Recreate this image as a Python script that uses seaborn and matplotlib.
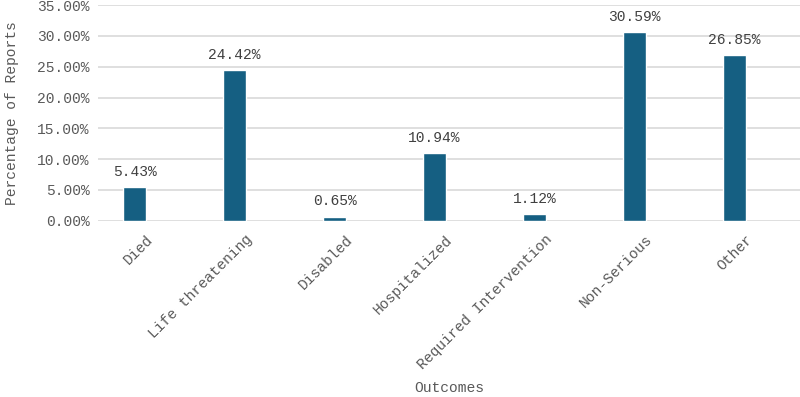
import matplotlib
matplotlib.use("Agg")
import matplotlib.pyplot as plt
import matplotlib.transforms as mtransforms
import numpy as np
import pandas as pd
import seaborn as sns
from matplotlib.ticker import FuncFormatter

#%% Data
outcomes = ['Died', 'Life threatening', 'Disabled', 'Hospitalized',
            'Required Intervention', 'Non-Serious', 'Other']
percentages = [5.43, 24.42, 0.65, 10.94, 1.12, 30.59, 26.85]

data = pd.DataFrame({'Outcomes': outcomes, 'Percentage': percentages})

#%% Figure
sns.set_style("white")
plt.rcParams['font.family'] = ['Liberation Mono', 'DejaVu Sans']
text_color = '#595959'
bar_color = '#155F82'

fig = plt.figure(figsize=(8, 3.97), dpi=100)
ax = fig.add_axes([0.1225, 0.444, 0.8775, 0.543])

sns.barplot(data=data, x='Outcomes', y='Percentage', color=bar_color,
            width=0.23, saturation=1, ax=ax, zorder=3)

# value labels
for i, v in enumerate(percentages):
    ax.annotate(f'{v:.2f}%', (i, v), xytext=(0, 6), textcoords='offset points',
                ha='center', va='bottom', fontsize=10.5, color='#404040')

ax.set_ylim(0, 35)
ax.set_yticks(np.arange(0, 36, 5))
ax.yaxis.set_major_formatter(FuncFormatter(lambda y, _: f'{y:.2f}%'))
ax.set_xlim(-0.365, 6.655)

ax.grid(axis='y', color='#d9d9d9', linewidth=1.2, zorder=0)
ax.grid(axis='x', visible=False)
for s in ax.spines.values():
    s.set_visible(False)

ax.tick_params(axis='both', length=0, labelsize=10.5, labelcolor=text_color)
ax.tick_params(axis='y', pad=6)
offset = mtransforms.ScaledTranslation(11/100, -7/100, fig.dpi_scale_trans)
for lbl in ax.get_xticklabels():
    lbl.set_rotation(45)
    lbl.set_ha('right')
    lbl.set_rotation_mode('anchor')
    lbl.set_transform(lbl.get_transform() + offset)

ax.set_xlabel('Outcomes', fontsize=10.5, color=text_color)
ax.set_ylabel('Percentage of Reports', fontsize=10.5, color=text_color)
ax.xaxis.set_label_coords(0.5, -0.745)
ax.yaxis.set_label_coords(-0.113, 0.5)

fig.savefig('out.png', dpi=100)
